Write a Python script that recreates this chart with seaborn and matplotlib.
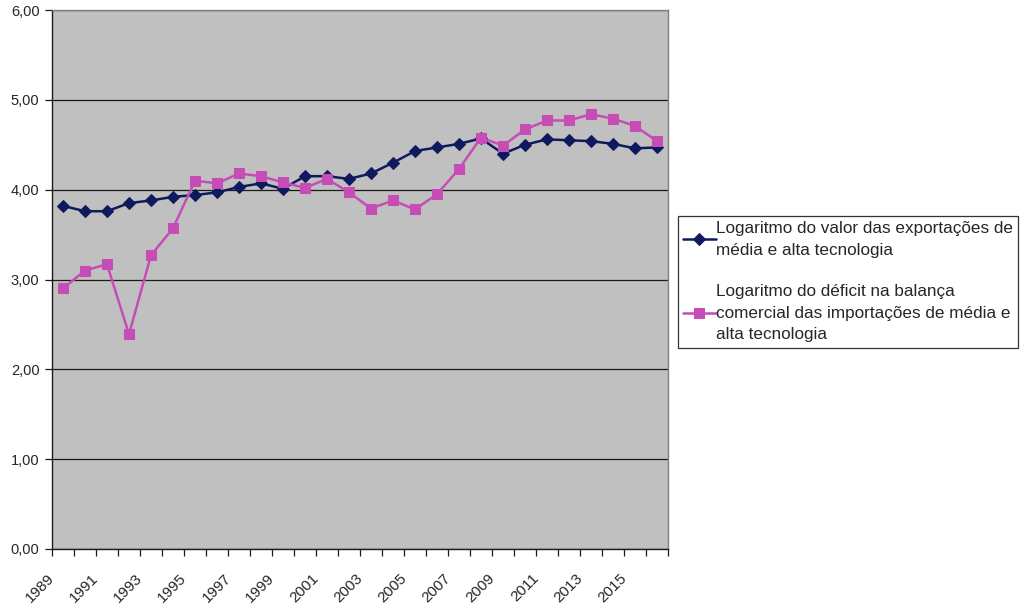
import numpy as np
import pandas as pd
import matplotlib
matplotlib.use("Agg")
import matplotlib.pyplot as plt
import seaborn as sns
from matplotlib.ticker import FuncFormatter, FixedLocator

years = list(range(1989, 2017))

exportacoes = [3.82, 3.76, 3.76, 3.85, 3.88, 3.92, 3.94, 3.97, 4.03, 4.07,
               4.01, 4.15, 4.15, 4.12, 4.18, 4.30, 4.43, 4.47, 4.51, 4.57,
               4.40, 4.50, 4.56, 4.55, 4.54, 4.51, 4.46, 4.47]

deficit = [2.90, 3.10, 3.17, 2.39, 3.27, 3.57, 4.10, 4.07, 4.18, 4.15,
           4.08, 4.02, 4.12, 3.97, 3.79, 3.88, 3.78, 3.95, 4.23, 4.58,
           4.49, 4.67, 4.77, 4.77, 4.84, 4.79, 4.71, 4.54]

label_exp = "Logaritmo do valor das exportações de\nmédia e alta tecnologia"
label_def = ("Logaritmo do déficit na balança\ncomercial das importações de média e\n"
             "alta tecnologia")

sns.set_theme(style="white")
plt.rcParams["font.family"] = ["Liberation Sans", "DejaVu Sans"]

df = pd.DataFrame({"pos": np.arange(len(years)), "ano": years,
                   "exp": exportacoes, "def": deficit})

fig = plt.figure(figsize=(10.24, 6.05), dpi=100)
ax = fig.add_axes([52 / 1024, 1 - 549 / 605, (668 - 52) / 1024, (549 - 10) / 605])
ax.set_facecolor("#c0c0c0")

navy = "#0f1a5e"
pink = "#c64db6"

sns.lineplot(data=df, x="pos", y="exp", ax=ax, color=navy, linewidth=1.8,
             marker="D", markersize=6.5, markeredgecolor=navy, label=label_exp)
sns.lineplot(data=df, x="pos", y="def", ax=ax, color=pink, linewidth=1.8,
             marker="s", markersize=7.5, markeredgecolor=pink, label=label_def)

ax.set_xlim(-0.5, len(years) - 0.5)
ax.set_ylim(0, 6)
ax.set_xlabel("")
ax.set_ylabel("")

# horizontal gridlines at each unit
ax.yaxis.set_major_locator(FixedLocator(np.arange(0, 7, 1)))
ax.yaxis.set_major_formatter(FuncFormatter(lambda v, p: f"{v:.2f}".replace(".", ",")))
ax.grid(axis="y", color="#1a1a1a", linewidth=0.9)
ax.grid(axis="x", visible=False)

# tick marks at category boundaries, labels every other year
ax.set_xticks(np.arange(-0.5, len(years), 1.0))
ax.set_xticklabels([])
ax.tick_params(axis="x", which="major", direction="out", length=5, width=0.9,
               color="#1a1a1a", bottom=True)
ax.tick_params(axis="y", direction="out", length=5, width=0.9, color="#1a1a1a",
               left=True, labelsize=10.5, pad=4)
for i, yr in enumerate(years):
    if i % 2 == 0:
        ax.text(i - 0.25, -0.25, str(yr), rotation=45, ha="right", va="top",
                fontsize=11, transform=ax.transData, clip_on=False)

for side in ("left", "bottom"):
    ax.spines[side].set_color("#1a1a1a")
    ax.spines[side].set_linewidth(1.0)
for side in ("top", "right"):
    ax.spines[side].set_color("#808080")
    ax.spines[side].set_linewidth(1.0)

ax.legend_.remove()
handles, labels = ax.get_legend_handles_labels()
leg = fig.legend(handles, labels, loc="upper left",
                 bbox_to_anchor=(678 / 1024, 1 - 216 / 605),
                 frameon=True, fancybox=False, fontsize=12.3,
                 handlelength=1.9, handletextpad=0.0, labelspacing=1.55,
                 borderpad=0.3, borderaxespad=0)
for t in leg.get_texts():
    t.set_linespacing(1.55)
leg.get_frame().set_edgecolor("#000000")
leg.get_frame().set_linewidth(0.9)

fig.savefig("out.png", dpi=100, facecolor="white")
